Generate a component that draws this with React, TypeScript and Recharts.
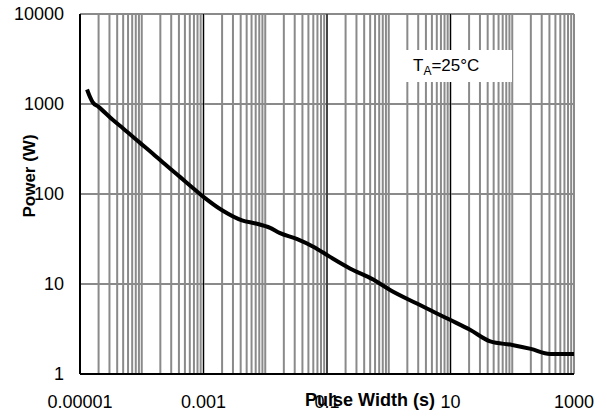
import React from "react"
import { LineChart, Line, XAxis, YAxis, ReferenceLine } from "recharts"

// pulse width (s) vs peak power (W)
const pulseWidth = [
  1.3e-5, 1.45e-5, 1.6e-5, 2e-5, 3.5e-5, 5e-5, 9.4e-5, 1.5e-4, 2.2e-4, 4.2e-4, 6.8e-4, 1e-3, 2e-3, 4.2e-3, 7e-3,
  0.012, 0.017, 0.033, 0.06, 0.112, 0.235, 0.56, 1.05, 2.8, 9.8, 20.7, 44, 100, 200, 407, 1000,
]
const power = [
  1450, 1200, 1050, 930, 655, 535, 370, 282, 224, 154, 116, 93, 66, 51, 47, 42, 37, 31.6, 26, 20, 14.9, 11.2, 8.6, 6.1,
  4.0, 3.1, 2.3, 2.1, 1.9, 1.67, 1.67,
]

const xTicks = [1e-5, 1e-3, 1e-1, 10, 1000]
const xTickLabels = ["0.00001", "0.001", "0.1", "10", "1000"]
const yTicks = [1, 10, 100, 1000, 10000]
const yTickLabels = ["1", "10", "100", "1000", "10000"]
const decades = [1e-5, 1e-4, 1e-3, 1e-2, 1e-1, 1, 10, 100]
const multiples = [1, 2, 3, 4, 5, 6, 7, 8, 9]

const data = pulseWidth.map((x, i) => ({ x, y: power[i] }))
const xGrid = [...decades.flatMap((d) => multiples.map((m) => m * d)), 1000]
const blackX = [1e-3, 1e-1, 10]

const font = "'Liberation Sans', Arial, sans-serif"
const gray = "#8a8a8a"

const XTick = ({ x, y, payload }: any) => {
  const i = xTicks.indexOf(payload.value)
  return (
    <text x={x} y={y + 34} textAnchor="middle" fontSize={18} fontFamily={font} fill="#000">
      {i >= 0 ? xTickLabels[i] : payload.value}
    </text>
  )
}

const YTick = ({ x, y, payload }: any) => {
  const i = yTicks.indexOf(payload.value)
  return (
    <text x={x - 16} y={y} textAnchor="end" dominantBaseline="central" fontSize={18} fontFamily={font} fill="#000">
      {i >= 0 ? yTickLabels[i] : payload.value}
    </text>
  )
}

export default function App() {
  return (
    <div style={{ position: "absolute", left: 0, top: 0, width: 607, height: 416, background: "#fff" }}>
      <LineChart width={607} height={416} data={data} margin={{ top: 14, right: 33, left: 10, bottom: 12 }}>
        <XAxis
          dataKey="x"
          type="number"
          scale="log"
          domain={[1e-5, 1000]}
          ticks={xTicks}
          allowDataOverflow
          height={30}
          tickSize={0}
          tickMargin={0}
          tickLine={false}
          axisLine={false}
          tick={<XTick />}
        />
        <YAxis
          type="number"
          scale="log"
          domain={[1, 10000]}
          ticks={yTicks}
          allowDataOverflow
          width={70}
          tickSize={0}
          tickMargin={0}
          tickLine={false}
          axisLine={false}
          tick={<YTick />}
        />
        {xGrid.map((v) => (
          <ReferenceLine key={"gx" + v} x={v} stroke={gray} strokeWidth={2} />
        ))}
        {yTicks.slice(1).map((v) => (
          <ReferenceLine key={"gy" + v} y={v} stroke={gray} strokeWidth={2} />
        ))}
        {blackX.map((v) => (
          <ReferenceLine key={"bx" + v} x={v} stroke="#000" strokeWidth={1} />
        ))}
        <ReferenceLine x={1e-5} stroke="#000" strokeWidth={2} />
        <ReferenceLine y={1} stroke="#000" strokeWidth={2} />
        <Line
          dataKey="y"
          type="monotone"
          stroke="#000"
          strokeWidth={4}
          dot={false}
          isAnimationActive={false}
        />
      </LineChart>
      <svg width={607} height={416} style={{ position: "absolute", left: 0, top: 0, pointerEvents: "none" }}>
        <text x={370} y={406} textAnchor="middle" fontSize={18} fontWeight="bold" fontFamily={font} fill="#000">
          Pulse Width (s)
        </text>
        <text
          x={35}
          y={176}
          transform="rotate(-90, 35, 176)"
          textAnchor="middle"
          fontSize={17}
          fontWeight="bold"
          fontFamily={font}
          fill="#000"
        >
          Power (W)
        </text>
      </svg>
      <div
        style={{
          position: "absolute",
          left: 405,
          top: 50,
          width: 107,
          height: 32,
          background: "#fff",
          fontFamily: font,
          fontSize: 17,
          lineHeight: "32px",
          paddingLeft: 8,
          boxSizing: "border-box",
          color: "#000",
        }}
      >
        T<sub style={{ fontSize: 12, verticalAlign: "-4px", lineHeight: 0 }}>A</sub>=25°C
      </div>
    </div>
  )
}
